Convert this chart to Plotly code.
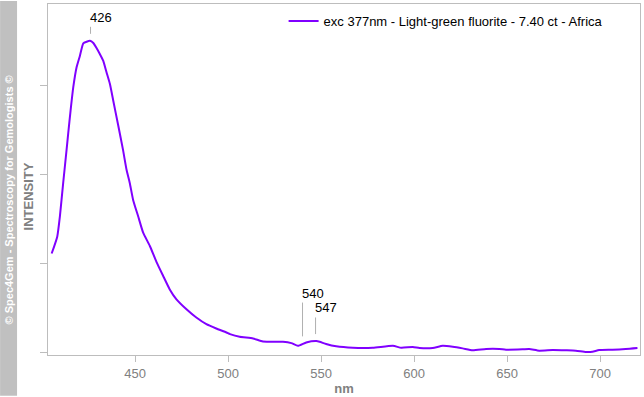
import plotly.graph_objects as go

# ---- data ----
wavelength = [405.1, 408.1, 409.5, 411.3, 413.1, 414.0, 415.3, 416.7, 418.5, 420.3,
              422.1, 423.9, 425.7, 427.5, 429.3, 431.0, 432.8, 434.6, 436.4, 438.2,
              440.9, 443.5, 445.4, 447.1, 448.9, 451.6, 454.3, 457.9, 461.5, 465.0,
              468.6, 472.2, 477.6, 482.9, 488.3, 493.6, 499.1, 501.0, 506.2, 513.4,
              518.7, 529.5, 534.0, 537.5, 542.0, 547.4, 549.2, 552.7, 558.1, 567.1,
              577.8, 588.6, 593.1, 599.3, 602.9, 610.0, 615.4, 620.8, 626.1, 631.5,
              638.7, 645.8, 649.4, 658.3, 661.9, 667.3, 674.5, 681.6, 687.0, 692.4,
              695.9, 699.5, 706.7, 713.8, 720.1]
intensity = [1.109, 1.299, 1.523, 1.904, 2.273, 2.461, 2.724, 2.979, 3.206, 3.337,
             3.475, 3.494, 3.505, 3.480, 3.420, 3.356, 3.281, 3.150, 3.020, 2.833,
             2.550, 2.273, 2.049, 1.904, 1.713, 1.529, 1.344, 1.194, 1.012, 0.859,
             0.705, 0.593, 0.481, 0.388, 0.313, 0.265, 0.220, 0.202, 0.171, 0.153,
             0.119, 0.115, 0.100, 0.070, 0.108, 0.123, 0.115, 0.090, 0.064, 0.048,
             0.048, 0.070, 0.048, 0.056, 0.045, 0.045, 0.070, 0.059, 0.041, 0.019,
             0.034, 0.034, 0.026, 0.030, 0.034, 0.015, 0.022, 0.019, 0.015, 0.000,
             0.003, 0.022, 0.026, 0.034, 0.045]
series_name = "exc 377nm - Light-green fluorite - 7.40 ct - Africa"
peak_labels = ["426", "540", "547"]
peak_nm = [426, 540, 547]
x_ticks = [450, 500, 550, 600, 650, 700]

# ---- styling / positions ----
FONT = "Arial, Liberation Sans, sans-serif"
GRAY_TXT = "#808080"
FRAME = "#bdbdbd"
peak_line_y = [(3.662, 3.583), (0.557, 0.176), (0.389, 0.202)]
peak_text_y = [3.763, 0.661, 0.50]

fig = go.Figure()
fig.add_trace(go.Scatter(x=wavelength, y=intensity, mode="lines", name=series_name,
                         line=dict(color="#8000ff", width=2, shape="spline",
                                   smoothing=0.5)))

shapes = []
annotations = []
for lbl, nm, (y0, y1), ty in zip(peak_labels, peak_nm, peak_line_y, peak_text_y):
    shapes.append(dict(type="line", xref="x", yref="y", x0=nm, x1=nm, y0=y0, y1=y1,
                       line=dict(color="#b0b0b0", width=1)))
    annotations.append(dict(x=nm, y=ty, xref="x", yref="y", text=lbl, showarrow=False,
                            xanchor="left", yanchor="middle", xshift=-3,
                            font=dict(family=FONT, size=13, color="#000000")))

# left gray copyright band
W, H = 644, 397
L, R, T, B = 48, 3, 3, 41
pw, ph = W - L - R, H - T - B
def px(xp):
    return (xp - L) / pw
def py(yp):
    return (H - B - yp) / ph

shapes.append(dict(type="rect", xref="paper", yref="paper", x0=px(0), x1=px(17),
                   y0=py(H), y1=py(0), fillcolor="#c0c0c0", line=dict(width=0),
                   layer="below"))
annotations.append(dict(xref="paper", yref="paper", x=px(8.5), y=py(200),
                        text="<b>© Spec4Gem - Spectroscopy for Gemologists ©</b>",
                        textangle=-90, showarrow=False, xanchor="center", yanchor="middle",
                        font=dict(family=FONT, size=11, color="#ffffff")))
annotations.append(dict(xref="paper", yref="paper", x=px(28.5), y=py(197),
                        text="<b>INTENSITY</b>", textangle=-90, showarrow=False,
                        xanchor="center", yanchor="middle",
                        font=dict(family=FONT, size=13, color=GRAY_TXT)))

fig.update_layout(
    width=W, height=H,
    margin=dict(l=L, r=R, t=T, b=B, pad=0),
    paper_bgcolor="white", plot_bgcolor="white",
    showlegend=True,
    legend=dict(x=px(284), y=py(5), xanchor="left", yanchor="top",
                bgcolor="rgba(0,0,0,0)", font=dict(family=FONT, size=13, color="#000000"),
                itemwidth=30),
    xaxis=dict(range=[403.13, 721.47], tickvals=x_ticks, ticks="outside", ticklen=6,
               tickcolor=FRAME, showgrid=False, zeroline=False, showline=True,
               linecolor=FRAME, linewidth=1, mirror=True,
               tickfont=dict(family=FONT, size=13, color=GRAY_TXT),
               title=dict(text="<b>nm</b>", font=dict(family=FONT, size=13, color=GRAY_TXT),
                          standoff=4)),
    yaxis=dict(range=[-0.0336, 3.919], tickvals=[0, 1, 2, 3], ticks="outside", ticklen=7,
               tickcolor=FRAME, showticklabels=False, showgrid=False, zeroline=False,
               showline=True, linecolor=FRAME, linewidth=1, mirror=True),
    shapes=shapes,
    annotations=annotations,
)

fig.write_html("out.html")
